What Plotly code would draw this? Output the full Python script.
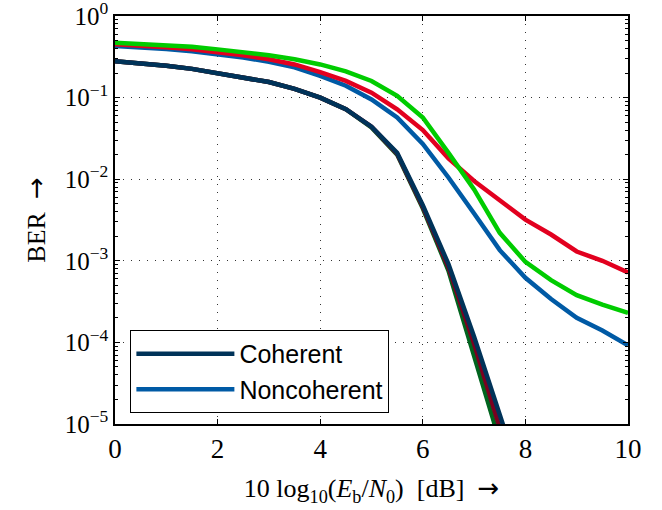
import plotly.graph_objects as go

snr_db = [0, 0.5, 1, 1.5, 2, 2.5, 3, 3.5, 4, 4.5, 5, 5.5, 6, 6.5, 7, 7.5, 8, 8.5, 9, 9.5, 10]

# Coherent detection (three nearly overlapping variants)
coh_navy = [0.28, 0.265, 0.245, 0.225, 0.2, 0.178, 0.155, 0.128, 0.1, 0.072, 0.044, 0.021, 0.0048, 9.1e-4, 1.17e-4, 1.3e-5, 1.4e-6]
coh_red = [0.28, 0.265, 0.245, 0.225, 0.2, 0.178, 0.155, 0.128, 0.1, 0.072, 0.044, 0.0205, 0.0046, 8.3e-4, 9.6e-5, 9.0e-6, 8.0e-7]
coh_green = [0.28, 0.265, 0.245, 0.225, 0.2, 0.178, 0.155, 0.128, 0.1, 0.072, 0.043, 0.020, 0.0044, 7.6e-4, 7.6e-5, 6.7e-6, 5.5e-7]

# Noncoherent detection
non_blue = [0.43, 0.415, 0.395, 0.37, 0.34, 0.31, 0.275, 0.235, 0.185, 0.14, 0.095, 0.057, 0.027, 0.0105, 0.0038, 0.00135, 6.2e-4, 3.4e-4, 2.0e-4, 1.4e-4, 9.2e-5]
non_red = [0.45, 0.435, 0.415, 0.39, 0.36, 0.33, 0.295, 0.255, 0.205, 0.16, 0.115, 0.072, 0.04, 0.018, 0.0095, 0.0055, 0.0032, 0.0021, 0.0013, 0.001, 7.2e-4]
non_green = [0.47, 0.455, 0.44, 0.42, 0.39, 0.36, 0.33, 0.295, 0.255, 0.21, 0.16, 0.105, 0.057, 0.021, 0.0075, 0.0022, 9.7e-4, 5.8e-4, 3.8e-4, 2.9e-4, 2.3e-4]

x_ticks = [0, 2, 4, 6, 8, 10]
y_tickvals = [1e-5, 1e-4, 1e-3, 1e-2, 1e-1, 1e0]
y_ticktext = ["10<sup>−5</sup>", "10<sup>−4</sup>", "10<sup>−3</sup>", "10<sup>−2</sup>", "10<sup>−1</sup>", "10<sup>0</sup>"]
y_minor = [m * 10.0 ** e for e in range(-5, 0) for m in range(2, 10)]

NAVY = "#003359"
BLUE = "#005AA5"
RED = "#E2001F"
GREEN = "#00CC00"
DGREEN = "#00641E"
DRED = "#7A0020"

fig = go.Figure()
LW = 4.5

fig.add_trace(go.Scatter(x=snr_db, y=non_blue, mode="lines", line=dict(color=BLUE, width=LW), showlegend=False))
fig.add_trace(go.Scatter(x=snr_db, y=non_red, mode="lines", line=dict(color=RED, width=LW), showlegend=False))
fig.add_trace(go.Scatter(x=snr_db, y=non_green, mode="lines", line=dict(color=GREEN, width=LW), showlegend=False))
fig.add_trace(go.Scatter(x=snr_db[:len(coh_green)], y=coh_green, mode="lines", line=dict(color=DGREEN, width=LW), showlegend=False))
fig.add_trace(go.Scatter(x=snr_db[:len(coh_red)], y=coh_red, mode="lines", line=dict(color=DRED, width=LW), showlegend=False))
fig.add_trace(go.Scatter(x=snr_db[:len(coh_navy)], y=coh_navy, mode="lines", line=dict(color=NAVY, width=LW), name="Coherent"))
fig.add_trace(go.Scatter(x=[None], y=[None], mode="lines", line=dict(color=BLUE, width=LW), name="Noncoherent"))

serif = "Liberation Serif"
ARROW = '<span style="font-family:DejaVu Sans">→</span>'

fig.update_layout(
    width=662, height=510,
    margin=dict(l=115, r=34, t=16, b=86, autoexpand=False),
    plot_bgcolor="white", paper_bgcolor="white",
    font=dict(family=serif, size=23, color="black"),
    legend=dict(
        x=0.03, y=0.027, xanchor="left", yanchor="bottom",
        bgcolor="white", bordercolor="black", borderwidth=1,
        font=dict(family="Liberation Sans", size=25, color="black"),
        tracegroupgap=0, itemwidth=98,
    ),
)

fig.update_xaxes(
    range=[0, 10], tickvals=x_ticks, ticktext=[str(v) for v in x_ticks],
    automargin=False,
    showline=True, linecolor="black", linewidth=1.5, mirror="allticks",
    ticks="inside", ticklen=5, tickcolor="black",
    showgrid=True, gridcolor="#333333", griddash="1px,7px", gridwidth=1,
    zeroline=False,
    title=dict(text="10 log<sub>10</sub>(<i>E</i><sub>b</sub>/<i>N</i><sub>0</sub>)  [dB]  " + ARROW, standoff=16,
               font=dict(family=serif, size=26)),
    tickfont=dict(family=serif, size=27),
)
fig.update_yaxes(
    type="log", range=[-5.0001, 0.0001], tickvals=y_tickvals, ticktext=y_ticktext,
    ticklabeloverflow="allow", automargin=False,
    showline=True, linecolor="black", linewidth=1.5, mirror="allticks",
    ticks="inside", ticklen=5, tickcolor="black",
    minor=dict(tickvals=y_minor, ticks="inside", ticklen=3, tickcolor="black", showgrid=False),
    showgrid=True, gridcolor="#333333", griddash="1px,7px", gridwidth=1,
    zeroline=False,
    title=dict(text="BER  " + ARROW, standoff=12, font=dict(family=serif, size=26)),
    tickfont=dict(family=serif, size=25),
)

fig.write_html("out.html", post_script="document.body.style.margin='0';",
               config={"displayModeBar": False})
